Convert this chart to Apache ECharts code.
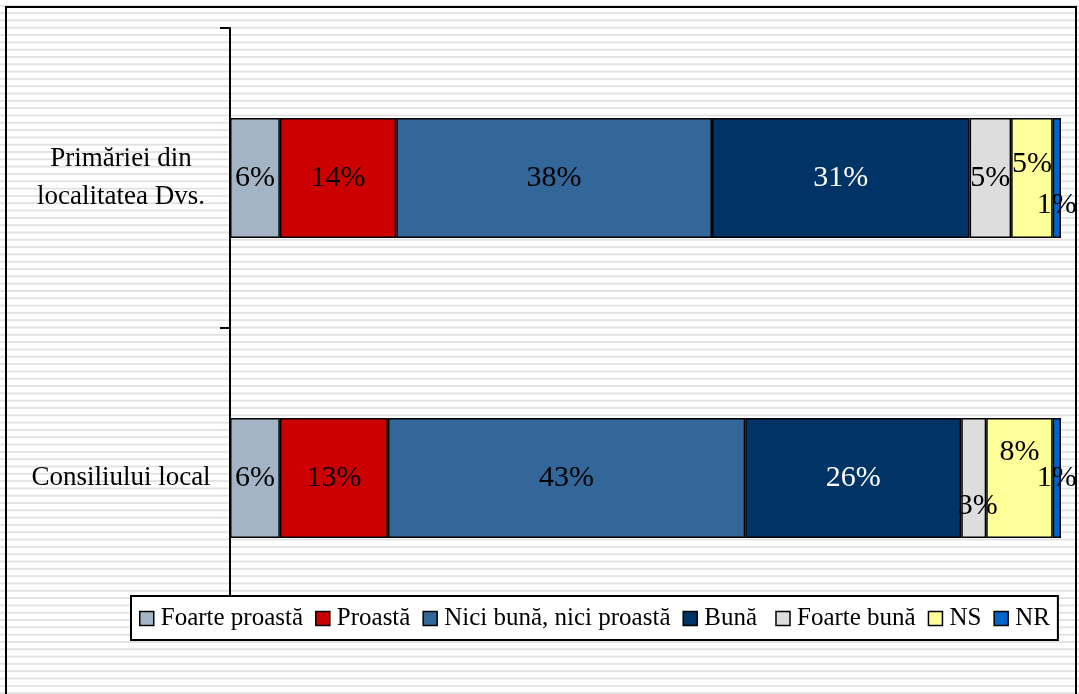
<!DOCTYPE html>
<html>
<head>
<meta charset="utf-8">
<script src="https://cdn.jsdelivr.net/npm/echarts@6/dist/echarts.min.js"></script>
<style>
  html, body { margin: 0; padding: 0; }
  body {
    width: 1079px; height: 694px; overflow: hidden;
    background-color: #ffffff;
    background-image: linear-gradient(to bottom, rgba(0,0,0,0) 0px, rgba(0,0,0,0) 5.3px, #e2e2e2 5.3px, #e2e2e2 7.32px);
    background-size: 100% 7.32px;
    background-position: 0 6.7px;
  }
  #chart { width: 1079px; height: 694px; }
</style>
</head>
<body>
<div id="chart"></div>
<script>
// ---- data ----
const categories = ['Primăriei din\nlocalitatea Dvs.', 'Consiliului local'];
const seriesNames = ['Foarte proastă', 'Proastă', 'Nici bună, nici proastă', 'Bună', 'Foarte bună', 'NS', 'NR'];
const foarteProasta = [6, 6];
const proasta = [14, 13];
const niciBuna = [38, 43];
const buna = [31, 26];
const foarteBuna = [5, 3];
const ns = [5, 8];
const nr = [1, 1];

// ---- styling ----
const FONT = "'Liberation Serif', 'Times New Roman', serif";
const colors = ['#a3b4c6', '#cc0000', '#336699', '#003366', '#dddddd', '#ffff99', '#0066cc'];
const labelColors = ['#000', '#000', '#000', '#fff', '#000', '#000', '#000'];
// nudges [dx, dy] of crowded data labels (per series, per category)
const labelNudges = [
  [[0, 0], [0, 0]],
  [[0, 0], [0, 0]],
  [[0, 0], [0, 0]],
  [[0, 0], [0, 0]],
  [[0, 0], [4, 28]],
  [[0, -14], [0, -26]],
  [[0, 27], [0, 0]]
];

const values = [foarteProasta, proasta, niciBuna, buna, foarteBuna, ns, nr];

const series = seriesNames.map((name, i) => ({
  name: name,
  type: 'bar',
  stack: 'total',
  barWidth: '40%',
  itemStyle: { color: colors[i], borderColor: '#000', borderWidth: 1.5 },
  label: {
    show: true,
    position: 'inside',
    formatter: '{c}%',
    fontFamily: FONT,
    fontSize: 30,
    color: labelColors[i]
  },
  data: values[i].map((v, j) => ({
    value: v,
    label: { offset: labelNudges[i][j] }
  }))
}));

const chart = echarts.init(document.getElementById('chart'));
chart.setOption({
  animation: false,
  backgroundColor: 'transparent',
  grid: { left: 230, right: 18, top: 28, bottom: 66, containLabel: false },
  xAxis: { type: 'value', min: 0, max: 100, show: false },
  yAxis: {
    type: 'category',
    inverse: true,
    data: categories,
    axisLine: { show: true, lineStyle: { color: '#000', width: 2 } },
    axisTick: { show: true, length: 10, lineStyle: { color: '#000', width: 2 } },
    axisLabel: {
      fontFamily: FONT, fontSize: 27, color: '#000',
      align: 'center', margin: 109, lineHeight: 38
    },
    splitLine: { show: false }
  },
  legend: {
    left: 131, top: 596,
    orient: 'horizontal',
    padding: [10, 8, 9, 8],
    itemWidth: 14, itemHeight: 14, itemGap: 12,
    backgroundColor: '#fff', borderColor: '#000', borderWidth: 2, borderRadius: 0,
    icon: 'rect',
    itemStyle: { borderColor: '#000', borderWidth: 1.5 },
    formatter: name => name === 'Bună' ? name + '\u00a0' : name,
    textStyle: { fontFamily: FONT, fontSize: 25, color: '#000', padding: [0, 0, 0, 2] },
    data: seriesNames
  },
  graphic: [{
    type: 'rect',
    silent: true,
    shape: { x: 6, y: 7, width: 1070, height: 700 },
    style: { fill: 'none', stroke: '#000', lineWidth: 2 }
  }],
  series: series
});
</script>
</body>
</html>
